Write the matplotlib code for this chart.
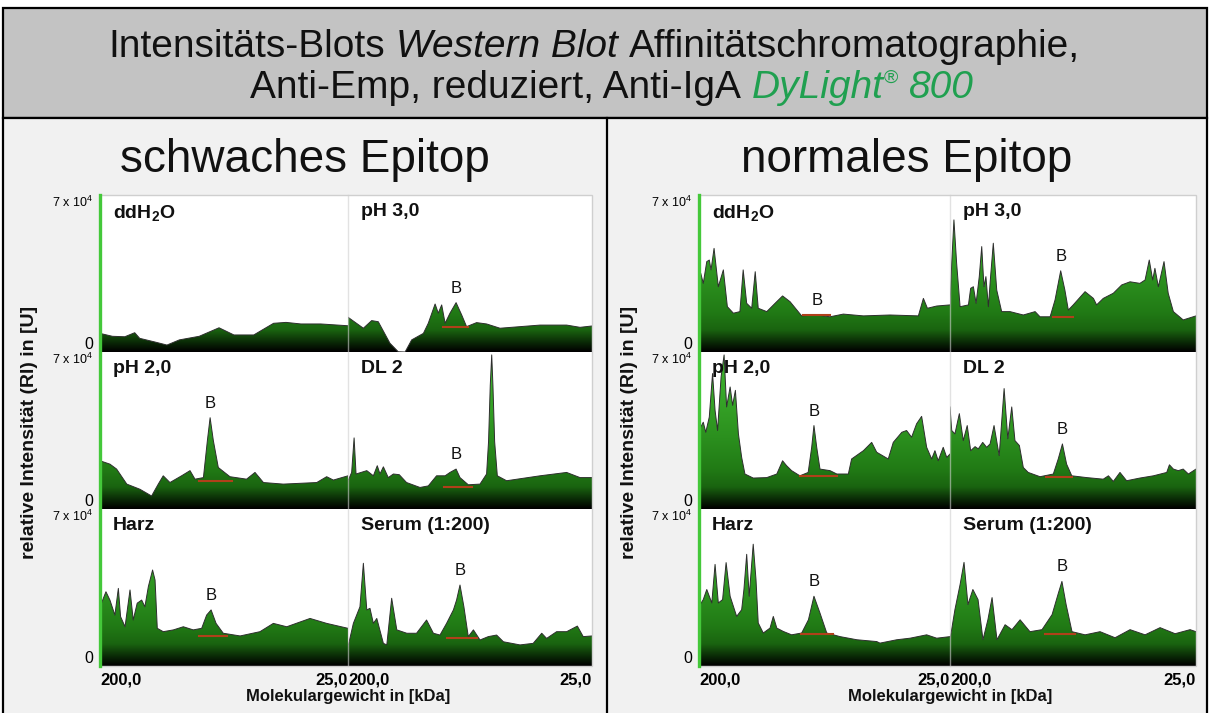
import numpy as np
import matplotlib.pyplot as plt
from matplotlib.colors import LinearSegmentedColormap
from matplotlib.offsetbox import TextArea, HPacker, AnnotationBbox
from matplotlib.patches import Rectangle
from matplotlib.lines import Line2D

plt.rcParams['font.family'] = ['Liberation Sans', 'DejaVu Sans']
plt.rcParams['mathtext.fontset'] = 'custom'
plt.rcParams['mathtext.rm'] = 'Liberation Sans'
plt.rcParams['mathtext.it'] = 'Liberation Sans:italic'
plt.rcParams['mathtext.bf'] = 'Liberation Sans:bold'

# Laufstrecke in % (200 kDa -> 25 kDa) und Intensität in 10^4 U
lane_names = ['ddH$_\\mathbf{2}$O', 'pH 3,0', 'pH 2,0', 'DL 2', 'Harz', 'Serum (1:200)']

# schwaches Epitop
w_ddh2o_pos = [0, 5, 10, 14, 16, 22, 27, 32, 40, 48, 54, 62, 70, 75, 81, 89, 100]
w_ddh2o_int = [0.83, 0.70, 0.68, 0.86, 0.61, 0.45, 0.31, 0.54, 0.70, 1.08, 0.76, 0.76, 1.28, 1.32, 1.25, 1.25, 1.17]

w_ph3_pos = [0, 6.3, 9.7, 12.4, 17.2, 20.6, 23.4, 26.1, 30.9, 32.9, 35.7, 37.0, 38.4, 39.8, 41.8,
             44.3, 46.6, 48.6, 52.7, 56.8, 62.3, 70.5, 78.7, 89.6, 95.1, 100]
w_ph3_int = [1.55, 1.06, 1.40, 1.35, 0.39, 0.01, 0.0, 0.54, 0.83, 1.28, 2.14, 1.73, 2.10, 1.28, 1.73,
             2.20, 1.65, 1.13, 1.31, 1.25, 1.06, 1.13, 1.20, 1.20, 1.10, 1.16]

w_ph2_pos = [0, 4, 6.7, 10.8, 16.1, 20.8, 23.5, 25.5, 28.2, 32.9, 36.3, 38.3, 41.7, 43.3, 44.4,
             45.7, 47.7, 52.4, 59.1, 62.5, 65.9, 73.9, 87.4, 91.4, 94.1, 100]
w_ph2_int = [2.15, 2.0, 1.78, 1.11, 0.88, 0.58, 1.11, 1.48, 1.18, 1.48, 1.71, 1.33, 1.40, 3.05, 4.07,
             3.05, 1.85, 1.44, 1.33, 1.63, 1.18, 1.11, 1.18, 1.44, 1.29, 1.48]

w_dl2_pos = [0, 1.5, 2.5, 3.3, 7.7, 10.4, 12, 13.1, 14.5, 16.5, 18.6, 21, 24, 29.5, 32.9, 36.3, 39.8,
             41.8, 44.3, 45.9, 49.3, 54.1, 56.8, 57.6, 58.3, 58.9, 59.4, 60.1, 61.2, 65, 78.7, 89.6, 95.1, 100]
w_dl2_int = [1.26, 1.63, 3.17, 1.56, 1.71, 1.48, 1.93, 1.56, 1.88, 1.40, 1.56, 1.53, 1.18, 0.96, 1.03, 1.48, 1.48,
             1.63, 1.78, 1.40, 1.08, 1.11, 1.56, 3.0, 5.5, 6.87, 5.5, 3.0, 1.48, 1.26, 1.48, 1.63, 1.40, 1.40]

w_harz_pos = [0, 2.4, 4, 6, 7.4, 8.3, 10.1, 12.1, 13.4, 15, 16.8, 18.1, 19.5, 21.2, 22.2, 23.1,
              25.5, 29.6, 33.6, 37.6, 41, 43, 44.8, 46.8, 49.7, 56.5, 64.5, 69.9, 75.3, 84.7, 91.4, 100]
w_harz_int = [2.64, 3.31, 2.94, 2.27, 3.46, 2.20, 1.75, 3.39, 2.05, 2.80, 2.94, 2.64, 3.54, 4.28, 3.83, 1.68,
              1.53, 1.61, 1.75, 1.61, 1.68, 2.27, 2.50, 1.90, 1.46, 1.34, 1.53, 1.90, 1.75, 2.12, 1.90, 1.68]

w_serum_pos = [0, 2.2, 4.9, 6.3, 7.7, 9.0, 10.4, 11.8, 14.5, 15.9, 17.9, 20, 24.1, 28.1, 32.2, 35, 37.7,
               40.4, 43.2, 44.5, 45.9, 47.5, 49.3, 51.4, 54.1, 57.5, 60.9, 63.7, 70.5, 75.9, 79.4, 81.4,
               85.5, 89.6, 94, 96.4, 100]
w_serum_int = [0.86, 1.90, 2.64, 4.58, 2.50, 2.57, 1.90, 2.12, 1.01, 0.94, 3.02, 1.61, 1.46, 1.46, 2.05, 1.46, 1.38,
               1.90, 2.50, 2.94, 3.61, 2.64, 1.31, 1.61, 1.16, 1.31, 1.38, 1.08, 0.94, 1.01, 1.46, 1.23,
               1.53, 1.53, 1.78, 1.31, 1.34]

# Bande B (Start, Ende, Basislinie) je Spur
w_band_start = [np.nan, 38.8, 40.0, 39.3, 40.0, 40.4]
w_band_end = [np.nan, 49.3, 53.4, 50.9, 51.4, 52.7]
w_band_level = [np.nan, 1.10, 1.23, 1.00, 1.34, 1.23]

# normales Epitop
n_ddh2o_pos = [0, 0.7, 1.7, 3.1, 4.1, 4.8, 6, 7.7, 9.7, 11.3, 13.7, 16.3, 17.6, 19, 21, 22.4, 23.6,
               27, 30.3, 33.3, 36.3, 40.9, 46.9, 52.2, 57.5, 65.5, 76.1, 87.4, 89.4, 91, 94.7, 100]
n_ddh2o_int = [3.3, 3.51, 3.06, 4.03, 4.10, 3.66, 4.62, 2.91, 3.66, 2.02, 1.73, 1.80, 3.66, 2.17, 1.95, 3.58, 1.95,
               1.80, 2.17, 2.50, 2.24, 1.61, 1.65, 1.57, 1.69, 1.61, 1.65, 1.61, 2.39, 1.95, 2.05, 2.10]

n_ph3_pos = [0, 0.7, 1.6, 2.7, 4.1, 7.5, 8.4, 9.5, 10.6, 11.9, 12.9, 13.8, 14.6, 15.6, 16.5, 17.6, 19, 21,
             24.4, 29.8, 34.6, 36.6, 40.7, 42.7, 45, 46.7, 48.1, 50.1, 54.9, 58.3, 59.6, 62.3, 66.4, 69.8,
             73.2, 77.2, 79.3, 81, 82.4, 83.3, 84.7, 87, 88.7, 90.8, 94.8, 100]
n_ph3_int = [2.02, 3.95, 5.89, 3.95, 2.02, 2.10, 2.84, 2.91, 2.17, 3.36, 4.70, 2.91, 3.36, 2.02, 3.36, 4.85, 2.76, 1.80,
             1.80, 1.65, 1.80, 1.57, 1.57, 2.32, 3.62, 2.76, 1.87, 2.10, 2.69, 2.39, 2.10, 2.39, 2.62, 2.99,
             3.13, 3.06, 3.21, 4.10, 3.21, 3.73, 2.91, 4.03, 2.62, 1.80, 1.43, 1.61]

n_ph2_pos = [0, 1.7, 2.7, 4.1, 5.4, 6.4, 7.4, 8.8, 10, 11, 12.4, 13.4, 14.5, 15.7, 17, 18.3, 21.6, 27, 31,
             33.3, 34.9, 36.9, 40.2, 43.5, 44.9, 45.8, 46.9, 48.2, 52.2, 54.9, 59.5, 60.8, 65.5, 68.8, 70.8,
             75.4, 77.4, 80.8, 82.7, 84.7, 86.7, 88.7, 90.7, 92.7, 94, 95.3, 97.3, 98.7, 100]
n_ph2_int = [3.5, 3.87, 3.42, 4.10, 6.04, 4.40, 3.5, 5.89, 6.87, 4.55, 5.44, 4.62, 5.29, 3.35, 2.30, 1.56, 1.38, 1.40, 1.56,
             2.15, 1.93, 1.71, 1.48, 1.63, 2.75, 3.72, 2.75, 1.78, 1.71, 1.56, 1.56, 2.23, 2.60, 2.97, 2.53,
             2.23, 2.97, 3.42, 3.5, 3.20, 3.80, 4.13, 2.75, 2.23, 2.60, 2.15, 2.75, 2.30, 2.45]

n_dl2_pos = [0, 0.7, 2, 3.8, 5.4, 7, 8.4, 10.2, 11.5, 13.3, 14.9, 16.3, 17.9, 20, 22, 23.5, 25.1, 26.4, 28.2,
             29.8, 31.8, 36.6, 42, 44, 45.7, 47.4, 49.5, 55.6, 62.3, 64.4, 66.4, 69.1, 71.8, 77.2, 82.7,
             88.1, 89.2, 90.8, 92.8, 94.8, 96.9, 100]
n_dl2_int = [4.55, 3.5, 3.35, 4.25, 3.05, 3.72, 2.60, 2.78, 2.68, 2.97, 2.75, 2.90, 3.72, 2.38, 5.37, 3.13, 4.55, 3.05, 2.83,
             1.85, 1.63, 1.44, 1.56, 2.23, 2.90, 2.00, 1.48, 1.40, 1.33, 1.48, 1.23, 1.63, 1.26, 1.38, 1.48,
             1.63, 1.97, 1.78, 1.71, 1.78, 1.56, 1.78]

n_harz_pos = [0, 1.7, 3.1, 5.1, 6.4, 7.7, 9.4, 10.8, 12.4, 15, 17, 17.9, 19, 20, 21.6, 22.7, 23.6, 25.6,
              28.3, 29.6, 31, 33.6, 36.9, 40.9, 43.6, 45.8, 48.2, 50.9, 56.2, 62.9, 70.8, 72.1, 78.8, 84.1,
              90.7, 94.7, 100]
n_harz_int = [2.66, 2.96, 3.41, 2.81, 4.53, 2.81, 2.96, 4.61, 3.11, 2.21, 2.51, 3.41, 4.98, 3.11, 5.43, 3.86, 1.92, 1.47,
              1.69, 2.21, 1.69, 1.54, 1.39, 1.47, 2.06, 3.11, 2.36, 1.47, 1.31, 1.17, 1.09, 1.02, 1.17, 1.24,
              1.39, 1.24, 1.31]

n_serum_pos = [0, 2, 4.1, 5.7, 7.3, 9.3, 11.4, 13.4, 15.4, 17.1, 19.1, 22.4, 25.2, 28.5, 32.5, 37.4, 41.5,
               43.9, 45.5, 47.2, 49.6, 54.9, 61, 67.1, 73.2, 79.3, 85.4, 91.5, 97.6, 100]
n_serum_int = [1.17, 2.51, 3.63, 4.62, 2.74, 3.41, 2.96, 1.17, 2.06, 3.05, 1.17, 1.84, 1.62, 2.06, 1.53, 1.62, 2.29,
               3.19, 3.77, 2.74, 1.53, 1.39, 1.53, 1.26, 1.62, 1.39, 1.71, 1.44, 1.62, 1.53]

n_band_start = [41.6, 41.9, 40.2, 38.9, 40.5, 38.6]
n_band_end = [52.2, 50.0, 54.9, 49.5, 53.2, 50.8]
n_band_level = [1.63, 1.57, 1.48, 1.44, 1.43, 1.43]

weak_traces = [(w_ddh2o_pos, w_ddh2o_int), (w_ph3_pos, w_ph3_int), (w_ph2_pos, w_ph2_int),
               (w_dl2_pos, w_dl2_int), (w_harz_pos, w_harz_int), (w_serum_pos, w_serum_int)]
normal_traces = [(n_ddh2o_pos, n_ddh2o_int), (n_ph3_pos, n_ph3_int), (n_ph2_pos, n_ph2_int),
                 (n_dl2_pos, n_dl2_int), (n_harz_pos, n_harz_int), (n_serum_pos, n_serum_int)]

W, H = 1210, 713
fig = plt.figure(figsize=(W / 100, H / 100), dpi=100, facecolor='white')

def fx(px):
    return px / W

def fy(py):
    return 1 - py / H

# Farbverlauf der Flächen: unten schwarz, oben hellgrün
blot_cmap = LinearSegmentedColormap.from_list('blot', [
    (0.0, '#000000'), (0.06, '#0a2a06'), (0.14, '#1a6410'), (0.25, '#217a15'),
    (0.45, '#2b8f1e'), (0.7, '#36a427'), (1.0, '#40b830')])
grad = np.linspace(0, 7, 400).reshape(-1, 1)

# Rahmen und Hintergründe
fig.add_artist(Rectangle((fx(3), fy(118)), fx(1207) - fx(3), (118 - 8) / H, transform=fig.transFigure,
                         facecolor='#c3c3c3', edgecolor='black', lw=1.6, zorder=-2))
fig.add_artist(Rectangle((fx(3), -0.02), fx(1207) - fx(3), fy(118) + 0.02, transform=fig.transFigure,
                         facecolor='#f1f1f1', edgecolor='black', lw=1.6, zorder=-2))
fig.add_artist(Line2D([fx(607), fx(607)], [0, fy(118)], color='black', lw=1.6, zorder=-1))

# Titel
tsize = 28
space = 0.278 * tsize
line1 = HPacker(children=[TextArea('Intensitäts-Blots', textprops=dict(fontsize=tsize, color='#111111')),
                          TextArea('Western Blot', textprops=dict(fontsize=tsize, style='italic', color='#111111')),
                          TextArea('Affinitätschromatographie,', textprops=dict(fontsize=tsize, color='#111111'))],
                align='baseline', pad=0, sep=space)
dylight = HPacker(children=[TextArea('DyLight', textprops=dict(fontsize=tsize, style='italic', color='#20a050')),
                            TextArea('®', textprops=dict(fontsize=tsize * 0.5, color='#20a050'))],
                  align='top', pad=0, sep=0)
line2 = HPacker(children=[TextArea('Anti-Emp, reduziert, Anti-IgA', textprops=dict(fontsize=tsize, color='#111111')),
                          dylight,
                          TextArea('800', textprops=dict(fontsize=tsize, style='italic', color='#20a050'))],
                align='top', pad=0, sep=space)
for box, xpx, ypx in ((line1, 594, 47), (line2, 612, 88)):
    fig.add_artist(AnnotationBbox(box, (fx(xpx), fy(ypx)), xycoords='figure fraction', frameon=False,
                                  box_alignment=(0.5, 0.5), pad=0))

row_px = [(195, 352), (352, 509), (509, 666)]


def draw_panel(traces, band_start, band_end, band_level, col_px, header, header_x):
    fig.text(fx(header_x), fy(160), header, ha='center', va='center', fontsize=33, color='#111111')
    left, right = col_px[0][0], col_px[1][1]
    fig.add_artist(Rectangle((fx(left), fy(666)), fx(right) - fx(left), (666 - 195) / H,
                             transform=fig.transFigure, facecolor='white', edgecolor='none', zorder=-1))

    for i, (pos, val) in enumerate(traces):
        r, c = divmod(i, 2)
        x0, x1 = col_px[c]
        y0, y1 = row_px[r]
        ax = fig.add_axes([fx(x0), fy(y1), (x1 - x0) / W, (y1 - y0) / H])
        ax.set_xlim(0, 100)
        ax.set_ylim(0, 7)
        ax.set_facecolor('white')
        for s in ax.spines.values():
            s.set_visible(False)
        ax.tick_params(length=0)

        im = ax.imshow(grad, extent=(0, 100, 0, 7), origin='lower', aspect='auto',
                       cmap=blot_cmap, vmin=0, vmax=7, interpolation='bilinear')
        area = ax.fill_between(pos, val, 0, facecolor='none', edgecolor='none')
        im.set_clip_path(area.get_paths()[0], transform=ax.transData)
        ax.plot(pos, val, color='#2e2e2e', lw=0.7)

        ax.annotate(lane_names[i], (0, 1), xycoords='axes fraction', xytext=(9.5, -5.5),
                    textcoords='offset points', ha='left', va='top', fontsize=14, fontweight='bold',
                    color='#111111')

        if not np.isnan(band_start[i]):
            ax.plot([band_start[i], band_end[i]], [band_level[i], band_level[i]], color='#b0401a', lw=1.5)
            p = np.asarray(pos)
            v = np.asarray(val)
            inside = (p >= band_start[i]) & (p <= band_end[i])
            k = np.argmax(np.where(inside, v, -1))
            ax.annotate('B', (p[k], v[k]), xytext=(0, 5), textcoords='offset points',
                        ha='center', va='bottom', fontsize=12, color='#111111')

        if c == 0:
            ax.set_yticks([0, 7], ['0', '7 x 10$^4$'])
            lbl = ax.get_yticklabels()
            lbl[0].set_va('bottom')
            lbl[0].set_fontsize(11.5)
            lbl[1].set_va('top')
            lbl[1].set_fontsize(9)
            ax.tick_params(axis='y', pad=5)
        else:
            ax.set_yticks([])

        if r == 2:
            ax.set_xticks([0, 100], ['200,0', '25,0'])
            lbl = ax.get_xticklabels()
            lbl[0].set_ha('left')
            lbl[1].set_ha('right')
            for t in lbl:
                t.set_fontsize(12)
                t.set_fontweight('bold')
            ax.tick_params(axis='x', pad=5)
        else:
            ax.set_xticks([])

    # Rahmen der Plotfläche, Trennlinie, grüne Achse
    fig.add_artist(Rectangle((fx(left), fy(666)), fx(right) - fx(left), (666 - 195) / H,
                             transform=fig.transFigure, facecolor='none', edgecolor='#cfcfcf', lw=1, zorder=4))
    mid = col_px[0][1]
    fig.add_artist(Line2D([fx(mid), fx(mid)], [fy(195), fy(666)], color='#d0d0d0', lw=1, alpha=0.6, zorder=4))
    fig.add_artist(Line2D([fx(left), fx(left)], [fy(195), fy(666)], color='#44c83a', lw=2.4, zorder=5))

    fig.text(fx(mid), fy(697), 'Molekulargewicht in [kDa]', ha='center', va='center',
             fontsize=12, fontweight='bold', color='#111111')
    fig.text(fx(left - 70), fy(432), 'relative Intensität (RI) in [U]', ha='center', va='center',
             rotation=90, fontsize=14, fontweight='bold', color='#111111')


draw_panel(weak_traces, w_band_start, w_band_end, w_band_level,
           [(100, 348), (348, 592)], 'schwaches Epitop', 305)
draw_panel(normal_traces, n_band_start, n_band_end, n_band_level,
           [(699, 950), (950, 1196)], 'normales Epitop', 907)

fig.savefig('out.png', dpi=100, facecolor=fig.get_facecolor())
